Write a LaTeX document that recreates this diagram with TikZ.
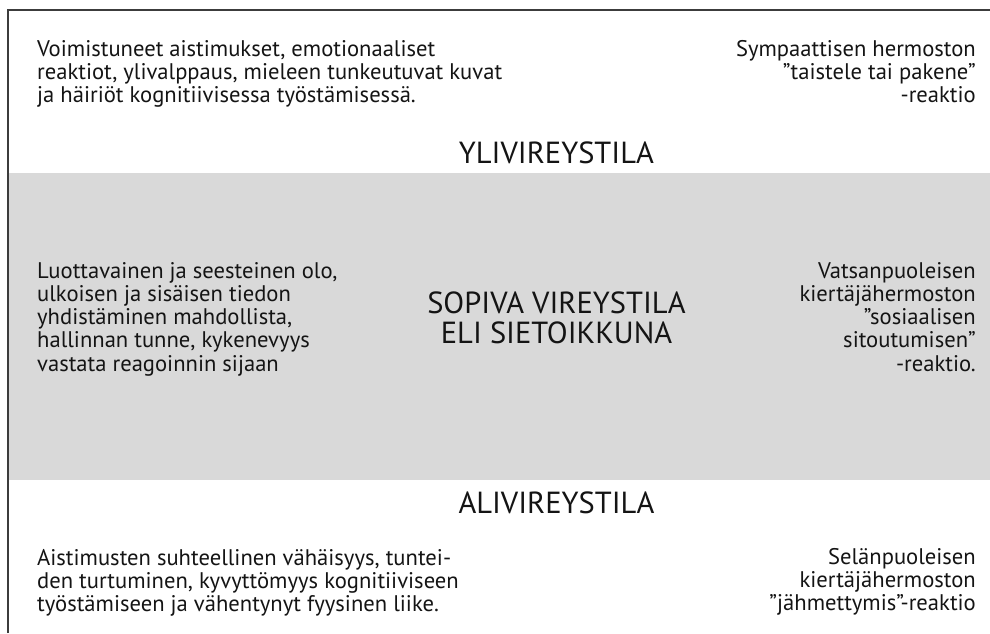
\documentclass[tikz,border=0pt]{standalone}
\usepackage{fontspec}
\setmainfont{PT Sans}
\definecolor{band}{RGB}{217,217,217}
\definecolor{ink}{RGB}{20,20,20}
\definecolor{rule}{RGB}{60,60,60}
\newcommand\lblock[1]{\begin{tabular}[t]{@{}l@{}}#1\end{tabular}}
\newcommand\rblock[1]{\begin{tabular}[t]{@{}r@{}}#1\end{tabular}}
\newcommand\cblock[1]{\begin{tabular}[t]{@{}c@{}}#1\end{tabular}}
\tikzset{
  bodytext/.style={inner sep=0pt, text=ink, font=\fontsize{22.6}{23.3}\selectfont},
  headtext/.style={inner sep=0pt, text=ink, font=\fontsize{30.5}{30}\selectfont},
  framerule/.style={draw=rule, line width=1.3pt},
}
\begin{document}
\begin{tikzpicture}[x=1pt,y=-1pt]
\useasboundingbox (0,0) rectangle (990,633);
\fill[band] (8,173) rectangle (990,480);
\coordinate (fb) at (8,633);
\coordinate (fc) at (8,10);
\coordinate (fr) at (990,10);
\draw[framerule] (fb) -- (fc) -- (fr);

\node[bodytext, anchor=base west] (hypL) at (37,56) {\lblock{Voimistuneet aistimukset, emotionaaliset\\reaktiot, ylivalppaus, mieleen tunkeutuvat kuvat\\ja häiriöt kognitiivisessa työstämisessä.}};
\node[bodytext, anchor=base east] (hypR) at (976,56) {\rblock{Sympaattisen hermoston\\”taistele tai pakene”\\-reaktio}};
\node[headtext, anchor=base] (hyp) at (556.5,163) {YLIVIREYSTILA};

\node[bodytext, anchor=base west] (winL) at (37,278) {\lblock{Luottavainen ja seesteinen olo,\\ulkoisen ja sisäisen tiedon\\yhdistäminen mahdollista,\\hallinnan tunne, kykenevyys\\vastata reagoinnin sijaan}};
\node[headtext, anchor=base] (win) at (556.5,313) {\cblock{SOPIVA VIREYSTILA\\ELI SIETOIKKUNA}};
\node[bodytext, anchor=base east] (winR) at (976,278) {\rblock{Vatsanpuoleisen\\kiertäjähermoston\\”sosiaalisen\\sitoutumisen”\\-reaktio.}};

\node[headtext, anchor=base] (hypo) at (556.5,513) {ALIVIREYSTILA};
\node[bodytext, anchor=base west] (hypoL) at (37,565) {\lblock{Aistimusten suhteellinen vähäisyys, tuntei-\\den turtuminen, kyvyttömyys kognitiiviseen\\työstämiseen ja vähentynyt fyysinen liike.}};
\node[bodytext, anchor=base east] (hypoR) at (976,564) {\rblock{Selänpuoleisen\\kiertäjähermoston\\”jähmettymis”-reaktio}};
\end{tikzpicture}
\end{document}
